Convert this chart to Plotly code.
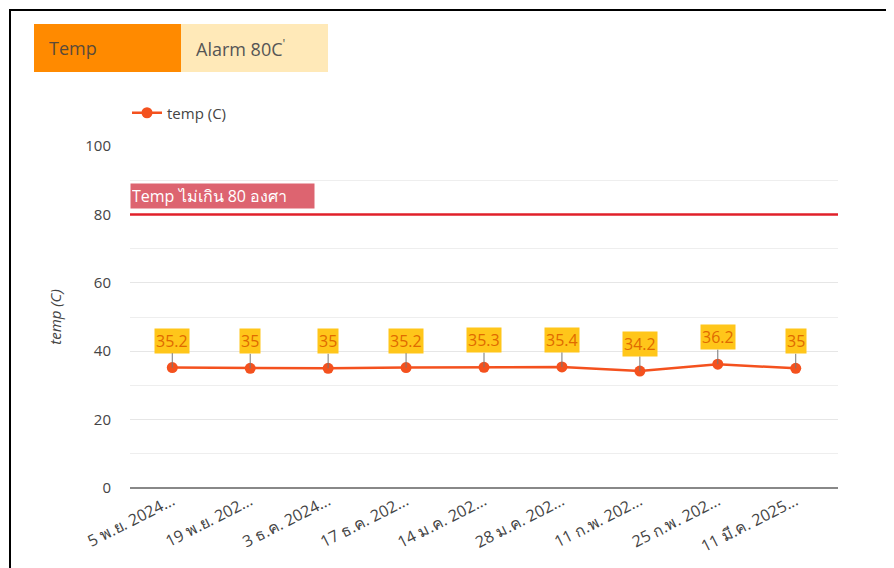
import plotly.graph_objects as go

categories = ["5 พ.ย. 2024...", "19 พ.ย. 202...", "3 ธ.ค. 2024...", "17 ธ.ค. 202...",
              "14 ม.ค. 202...", "28 ม.ค. 202...", "11 ก.พ. 202...", "25 ก.พ. 202...",
              "11 มี.ค. 2025..."]
temp_values = [35.2, 35, 35, 35.2, 35.3, 35.4, 34.2, 36.2, 35]
threshold = 80
threshold_label = "Temp ไม่เกิน 80 องศา"
y_ticks = [0, 20, 40, 60, 80, 100]

OFF = 8  # page body margin
W, H = 894 - OFF, 568 - OFF
L, R, T, B = 130 - OFF, 838 - OFF, 146 - OFF, 488 - OFF

def px(x):
    return (x - OFF - L) / (R - L)

def py(y):
    return (B - (y - OFF)) / (B - T)

FONT = "Open Sans, Noto Sans, sans-serif"

fig = go.Figure()
fig.add_trace(go.Scatter(
    x=categories, y=temp_values, mode="lines+markers", name="temp (C)",
    line=dict(color="#f4511e", width=2.5),
    marker=dict(color="#f4511e", size=11),
))

annotations = []
for c, v in zip(categories, temp_values):
    annotations.append(dict(
        x=c, y=v, xref="x", yref="y", text=str(v), showarrow=True,
        arrowhead=0, arrowwidth=1, arrowcolor="#777777", ax=0, ay=-27,
        bgcolor="#ffc61a", borderpad=1,
        font=dict(family=FONT, size=16, color="#e06a00"),
    ))

# threshold label
annotations.append(dict(
    x=0, y=threshold, xref="x domain", yref="y", xanchor="left", yanchor="bottom",
    yshift=5, text=threshold_label, showarrow=False, bgcolor="#dd6470",
    borderpad=1, width=181, align="left",
    font=dict(family=FONT, size=16, color="white"),
))

# buttons text
annotations.append(dict(x=px(47), y=py(48), xref="paper", yref="paper", xanchor="left",
                        yanchor="middle", text="Temp", showarrow=False,
                        font=dict(family=FONT, size=18, color="#5a4a3a")))
annotations.append(dict(x=px(194), y=py(48), xref="paper", yref="paper", xanchor="left",
                        yanchor="middle", text="Alarm 80C<sup>'</sup>", showarrow=False,
                        font=dict(family=FONT, size=18, color="#555555")))

shapes = [
    dict(type="rect", xref="paper", yref="paper", x0=px(10), x1=px(910), y0=py(10), y1=py(600),
         line=dict(color="black", width=2), fillcolor="rgba(0,0,0,0)", layer="below"),
    dict(type="rect", xref="paper", yref="paper", x0=px(34), x1=px(181), y0=py(24), y1=py(72),
         line=dict(width=0), fillcolor="#ff8a00"),
    dict(type="rect", xref="paper", yref="paper", x0=px(181), x1=px(328), y0=py(24), y1=py(72),
         line=dict(width=0), fillcolor="#ffe9b8"),
    dict(type="line", xref="x domain", yref="y", x0=0, x1=1, y0=threshold, y1=threshold,
         line=dict(color="#e0202a", width=2.5)),
]

fig.update_layout(
    width=W, height=H,
    margin=dict(l=L, r=W - R, t=T, b=H - B, pad=0),
    paper_bgcolor="white", plot_bgcolor="white",
    font=dict(family=FONT, size=14, color="#444444"),
    showlegend=True,
    legend=dict(orientation="h", x=px(127), y=py(113), xanchor="left", yanchor="middle",
                font=dict(family=FONT, size=15, color="#444444"), bgcolor="rgba(0,0,0,0)"),
    xaxis=dict(type="category", tickangle=-27, showgrid=False, showline=False, zeroline=False,
               ticks="", tickfont=dict(family=FONT, size=16, color="#444444")),
    yaxis=dict(range=[0, 100], tickvals=y_ticks, showgrid=True, gridcolor="#e6e6e6",
               zeroline=True, zerolinecolor="#888888", zerolinewidth=2,
               minor=dict(dtick=10, showgrid=True, gridcolor="#eeeeee"),
               ticklabelstandoff=18,
               title=dict(text="<i>temp (C)</i>", standoff=20,
                          font=dict(family=FONT, size=15, color="#444444")),
               tickfont=dict(family=FONT, size=15, color="#444444")),
    annotations=annotations, shapes=shapes,
)

fig.write_html("out.html")
